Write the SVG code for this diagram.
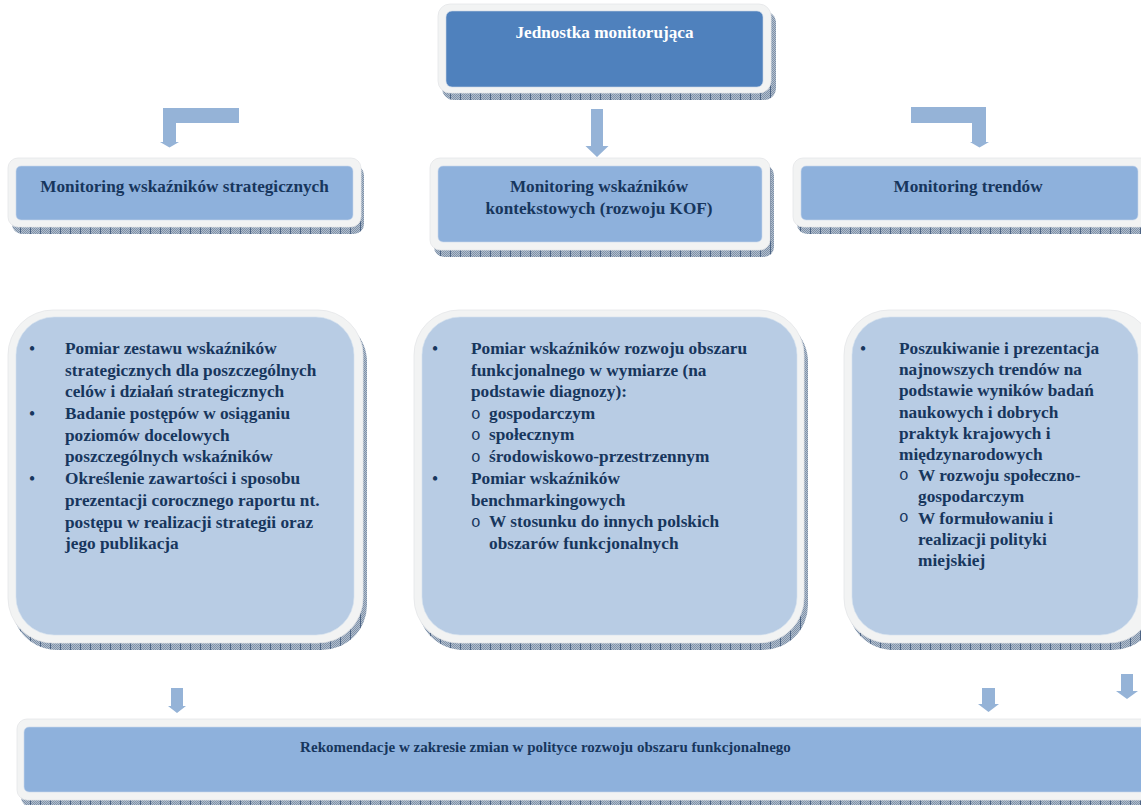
<svg xmlns="http://www.w3.org/2000/svg" width="1141" height="805" viewBox="0 0 1141 805">
<style>
.frame{fill:#f2f3f3;stroke:#e4e6e8;stroke-width:0.8}
.shadow{fill:url(#hatch)}
.dark{fill:#4f81bd;stroke:#c9d6e8;stroke-width:0.6}
.mid{fill:#8eb1dc;stroke:#c9d8ec;stroke-width:0.6}
.light{fill:#b8cce4;stroke:#d3e0ef;stroke-width:0.6}
.t{font-family:"Liberation Serif","Times New Roman",serif;font-weight:bold;font-size:16px;fill:#17365d}
.b{font-size:15.5px}
.w{fill:#ffffff}
.c{text-anchor:middle}
.o{font-family:"Liberation Mono","Courier New",monospace;font-size:16px;fill:#17365d}
.arrow{fill:#95b3d7}
</style>
<defs>
<pattern id="chk" width="2" height="2" patternUnits="userSpaceOnUse"><rect width="2" height="2" fill="#b3bfcd"/><rect width="1" height="1" fill="#7e91a9"/><rect x="1" y="1" width="1" height="1" fill="#7e91a9"/></pattern>
<pattern id="hatch" width="10" height="10" patternUnits="userSpaceOnUse"><rect width="10" height="10" fill="url(#chk)"/><rect width="1" height="10" fill="#4e6585"/></pattern>
</defs>
<rect width="1141" height="805" fill="#ffffff"/>

<g id="connectors">
<path class="arrow" d="M239,108 H163 V142 H160 L169.5,147.5 L179,142 H176 V123 H239 Z"/>
<path class="arrow" d="M591,109 H603 V146 H608.5 L597,157 L585.5,146 H591 Z"/>
<path class="arrow" d="M911,107 H986 V142 H989 L979.5,147.5 L970,142 H972 V123 H911 Z"/>
<path class="arrow" d="M171,688 H183 V706 H186 L177,713 L168,706 H171 Z"/>
<path class="arrow" d="M982,688 H995 V704 H999 L988.5,712 L978,704 H982 Z"/>
<path class="arrow" d="M1121,674 H1133 V691 H1138 L1127,699 L1116,691 H1121 Z"/>
</g>

<g id="top">
<rect class="shadow" x="442" y="11" width="334" height="89" rx="12"/>
<rect class="frame" x="438" y="4" width="333" height="89" rx="12"/>
<rect class="dark" x="446" y="11" width="317" height="76" rx="6"/>
<text class="t w c" transform="translate(604.5,38) scale(1.075,1)">Jednostka monitorująca</text>
</g>

<g id="strat">
<rect class="shadow" x="12" y="165" width="352" height="69" rx="10"/>
<rect class="frame" x="8" y="158" width="353" height="69" rx="10"/>
<rect class="mid" x="16" y="166" width="337" height="54" rx="5"/>
<text class="t c" transform="translate(184.5,191.5) scale(1.075,1)">Monitoring wskaźników strategicznych</text>
</g>

<g id="kontekst">
<rect class="shadow" x="434" y="165" width="340" height="92" rx="10"/>
<rect class="frame" x="430" y="158" width="340" height="92" rx="10"/>
<rect class="mid" x="438" y="166" width="324" height="76" rx="5"/>
<text class="t c" transform="translate(599,192) scale(1.075,1)">Monitoring wskaźników</text>
<text class="t c" transform="translate(599,214) scale(1.075,1)">kontekstowych (rozwoju KOF)</text>
</g>

<g id="trendy">
<rect class="shadow" x="797" y="165" width="360" height="69" rx="10"/>
<rect class="frame" x="793" y="158" width="360" height="69" rx="10"/>
<rect class="mid" x="801" y="166" width="337" height="54" rx="5"/>
<text class="t c" transform="translate(968,191.5) scale(1.075,1)">Monitoring trendów</text>
</g>

<g id="box-strat">
<rect class="shadow" x="12" y="317" width="355" height="333" rx="45"/>
<rect class="frame" x="8" y="310" width="355" height="333" rx="45"/>
<rect class="light" x="16" y="317" width="338" height="318" rx="38"/>
<text class="t c" x="32" y="354">•</text>
<text class="t c" x="32" y="419">•</text>
<text class="t c" x="32" y="484">•</text>
<g transform="translate(65,0) scale(1.08,1)">
<text class="t" x="0" y="354">Pomiar zestawu wskaźników</text>
<text class="t" x="0" y="375.7">strategicznych dla poszczególnych</text>
<text class="t" x="0" y="397.4">celów i działań strategicznych</text>
<text class="t" x="0" y="419.1">Badanie postępów w osiąganiu</text>
<text class="t" x="0" y="440.8">poziomów docelowych</text>
<text class="t" x="0" y="462.5">poszczególnych wskaźników</text>
<text class="t" x="0" y="484.2">Określenie zawartości i sposobu</text>
<text class="t" x="0" y="505.9">prezentacji corocznego raportu nt.</text>
<text class="t" x="0" y="527.6">postępu w realizacji strategii oraz</text>
<text class="t" x="0" y="549.3">jego publikacja</text>
</g>
</g>

<g id="box-kontekst">
<rect class="shadow" x="418" y="317" width="390" height="333" rx="45"/>
<rect class="frame" x="414" y="310" width="390" height="333" rx="45"/>
<rect class="light" x="422" y="317" width="375" height="318" rx="38"/>
<text class="t c" x="435" y="354">•</text>
<text class="t c" x="435" y="484">•</text>
<text class="o" x="471" y="418.5">o</text>
<text class="o" x="471" y="440">o</text>
<text class="o" x="471" y="461.5">o</text>
<text class="o" x="471" y="526.5">o</text>
<g transform="translate(471,0) scale(1.08,1)">
<text class="t" x="0" y="354">Pomiar wskaźników rozwoju obszaru</text>
<text class="t" x="0" y="375.6">funkcjonalnego w wymiarze (na</text>
<text class="t" x="0" y="397.2">podstawie diagnozy):</text>
<text class="t" x="0" y="484">Pomiar wskaźników</text>
<text class="t" x="0" y="505.6">benchmarkingowych</text>
</g>
<g transform="translate(489,0) scale(1.08,1)">
<text class="t" x="0" y="418.8">gospodarczym</text>
<text class="t" x="0" y="440.4">społecznym</text>
<text class="t" x="0" y="462">środowiskowo-przestrzennym</text>
<text class="t" x="0" y="527">W stosunku do innych polskich</text>
<text class="t" x="0" y="548.6">obszarów funkcjonalnych</text>
</g>
</g>

<g id="box-trendy">
<rect class="shadow" x="848" y="317" width="310" height="333" rx="45"/>
<rect class="frame" x="844" y="310" width="310" height="333" rx="45"/>
<rect class="light" x="852" y="317" width="286" height="318" rx="38"/>
<text class="t c" x="863" y="354">•</text>
<text class="o" x="899" y="480">o</text>
<text class="o" x="899" y="522">o</text>
<g transform="translate(899,0) scale(1.08,1)">
<text class="t" x="0" y="354">Poszukiwanie i prezentacja</text>
<text class="t" x="0" y="375.2">najnowszych trendów na</text>
<text class="t" x="0" y="396.4">podstawie wyników badań</text>
<text class="t" x="0" y="417.6">naukowych i dobrych</text>
<text class="t" x="0" y="438.8">praktyk krajowych i</text>
<text class="t" x="0" y="460">międzynarodowych</text>
</g>
<g transform="translate(918,0) scale(1.08,1)">
<text class="t" x="0" y="481.2">W rozwoju społeczno-</text>
<text class="t" x="0" y="502.4">gospodarczym</text>
<text class="t" x="0" y="523.6">W formułowaniu i</text>
<text class="t" x="0" y="544.8">realizacji polityki</text>
<text class="t" x="0" y="566">miejskiej</text>
</g>
</g>

<g id="rekomendacje">
<rect class="shadow" x="21" y="726" width="1140" height="81" rx="10"/>
<rect class="frame" x="17" y="719" width="1140" height="81" rx="10"/>
<rect class="mid" x="24" y="727" width="1125" height="65" rx="5"/>
<text class="t b c" transform="translate(545.5,752) scale(0.97,1)">Rekomendacje w zakresie zmian w polityce rozwoju obszaru funkcjonalnego</text>
</g>
</svg>
